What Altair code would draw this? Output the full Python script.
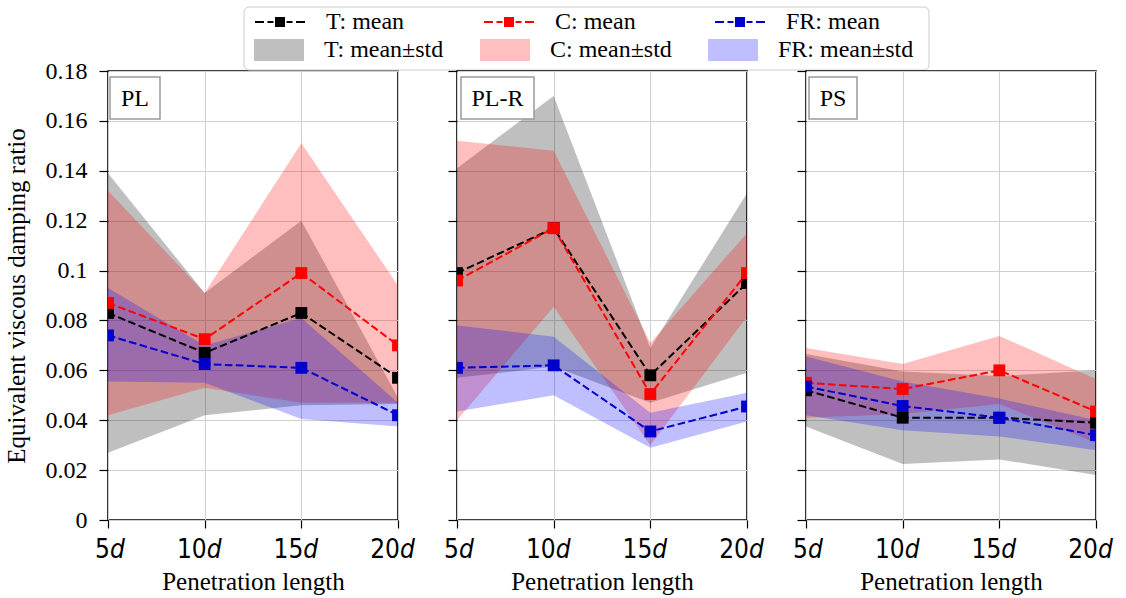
import altair as alt
import pandas as pd

# ---------------- data ----------------
X_POS = [5, 10, 15, 20]
X_NUM = ["5", "10", "15", "20"]
PANELS = ["PL", "PL-R", "PS"]
GROUPS = ["T", "C", "FR"]
Y_TICKS = [0, 0.02, 0.04, 0.06, 0.08, 0.1, 0.12, 0.14, 0.16, 0.18]

PL_T_MEAN = [0.083, 0.067, 0.083, 0.057]
PL_T_LO = [0.027, 0.042, 0.046, 0.0465]
PL_T_HI = [0.139, 0.091, 0.120, 0.049]
PL_C_MEAN = [0.087, 0.0725, 0.099, 0.070]
PL_C_LO = [0.042, 0.053, 0.047, 0.047]
PL_C_HI = [0.132, 0.091, 0.151, 0.094]
PL_FR_MEAN = [0.074, 0.0625, 0.061, 0.042]
PL_FR_LO = [0.0555, 0.055, 0.0405, 0.0375]
PL_FR_HI = [0.093, 0.070, 0.081, 0.047]

PLR_T_MEAN = [0.099, 0.117, 0.058, 0.095]
PLR_T_LO = [0.057, 0.0615, 0.047, 0.059]
PLR_T_HI = [0.141, 0.170, 0.069, 0.131]
PLR_C_MEAN = [0.096, 0.117, 0.0505, 0.099]
PLR_C_LO = [0.040, 0.0855, 0.030, 0.0815]
PLR_C_HI = [0.152, 0.148, 0.071, 0.115]
PLR_FR_MEAN = [0.061, 0.062, 0.0355, 0.0455]
PLR_FR_LO = [0.0435, 0.050, 0.029, 0.0395]
PLR_FR_HI = [0.078, 0.0735, 0.043, 0.051]

PS_T_MEAN = [0.052, 0.041, 0.041, 0.039]
PS_T_LO = [0.0375, 0.0225, 0.0243, 0.018]
PS_T_HI = [0.0665, 0.0595, 0.0577, 0.060]
PS_C_MEAN = [0.055, 0.0525, 0.060, 0.0435]
PS_C_LO = [0.041, 0.0425, 0.0465, 0.031]
PS_C_HI = [0.069, 0.0625, 0.0738, 0.0565]
PS_FR_MEAN = [0.0535, 0.0457, 0.041, 0.034]
PS_FR_LO = [0.042, 0.036, 0.0335, 0.028]
PS_FR_HI = [0.0655, 0.0555, 0.0487, 0.040]

MEAN_KEYS = ["T: mean", "C: mean", "FR: mean"]
BAND_KEYS = ["T: mean\u00b1std", "C: mean\u00b1std", "FR: mean\u00b1std"]

SERIES = {
    ("PL", "T"): (PL_T_MEAN, PL_T_LO, PL_T_HI),
    ("PL", "C"): (PL_C_MEAN, PL_C_LO, PL_C_HI),
    ("PL", "FR"): (PL_FR_MEAN, PL_FR_LO, PL_FR_HI),
    ("PL-R", "T"): (PLR_T_MEAN, PLR_T_LO, PLR_T_HI),
    ("PL-R", "C"): (PLR_C_MEAN, PLR_C_LO, PLR_C_HI),
    ("PL-R", "FR"): (PLR_FR_MEAN, PLR_FR_LO, PLR_FR_HI),
    ("PS", "T"): (PS_T_MEAN, PS_T_LO, PS_T_HI),
    ("PS", "C"): (PS_C_MEAN, PS_C_LO, PS_C_HI),
    ("PS", "FR"): (PS_FR_MEAN, PS_FR_LO, PS_FR_HI),
}

rows = []
for (p, g), (m, lo, hi) in SERIES.items():
    for i, xv in enumerate(X_POS):
        rows.append({"panel": p, "group": g, "x": xv, "mean": m[i], "lo": lo[i], "hi": hi[i]})
df = pd.DataFrame(rows)
tick_df = pd.DataFrame({"x": X_POS, "num": X_NUM, "d": ["d"] * 4})
leg_df = pd.DataFrame({"mkey": MEAN_KEYS, "bkey": BAND_KEYS, "x": [5, 5, 5], "y": [None, None, None]})

# ---------------- styles ----------------
SERIF = "Liberation Serif"
TICKFONT = "DejaVu Sans Condensed, DejaVu Sans"
LINE_COL = {"T": "#000000", "C": "#ff0000", "FR": "#0000cc"}
BAND_COL = {"T": "#000000", "C": "#ff0000", "FR": "#0000ff"}
LEG_MEAN_COL = ["#000000", "#ff0000", "#0000cc"]
LEG_BAND_COL = ["#bfbfbf", "#ffbfbf", "#bfbfff"]
BOX_W = {"PL": 50, "PL-R": 73, "PS": 48}
BOX_X = {"PL": 2, "PL-R": 4, "PS": 3}
W, H = 290, 449

# legend glyphs, unit = 25 px (symbolSize 2500)
MEAN_PATH = ("M-1,0H-0.64M-0.5,0H-0.26M0.26,0H0.5M0.64,0H1"
             "M-0.2,-0.16H0.2M-0.2,-0.08H0.2M-0.2,0H0.2M-0.2,0.08H0.2M-0.2,0.16H0.2")
BAND_PATH = "M-1,-0.44H1V0.44H-1Z"

xs = alt.Scale(domain=[5, 20], nice=False, zero=False)
ys = alt.Scale(domain=[0, 0.18], nice=False)


def make_panel(name, first):
    xaxis = alt.Axis(values=X_POS, labels=False, ticks=True, tickSize=8, tickColor="black",
                     tickWidth=1.2, domain=False, grid=True, gridColor="#d0d0d0", gridWidth=1,
                     title="Penetration length", titleFont=SERIF, titleFontSize=25,
                     titleFontWeight="normal", titleColor="black", titlePadding=41)
    yaxis = alt.Axis(values=Y_TICKS, labels=first, labelExpr="format(datum.value, '~g')",
                     labelFont=SERIF, labelFontSize=24, labelColor="black", labelPadding=12,
                     ticks=True, tickSize=9, tickColor="black", tickWidth=1.2, domain=False,
                     grid=True, gridColor="#d0d0d0", gridWidth=1,
                     title="Equivalent viscous damping ratio" if first else "",
                     titleFont=SERIF, titleFontSize=25, titleFontWeight="normal",
                     titleColor="black", titlePadding=16)
    X = alt.X("x:Q", scale=xs, axis=xaxis)
    src = alt.Chart(df).transform_filter(alt.datum.panel == name)
    layers = []
    for g in GROUPS:
        layers.append(
            src.transform_filter(alt.datum.group == g)
            .mark_area(color=BAND_COL[g], opacity=0.25, clip=True)
            .encode(x=X, y=alt.Y("lo:Q", scale=ys, axis=yaxis), y2="hi:Q")
        )
    for g in GROUPS:
        s = src.transform_filter(alt.datum.group == g)
        layers.append(
            s.mark_line(color=LINE_COL[g], strokeWidth=2, strokeDash=[7.6, 3.4], clip=True)
            .encode(x=X, y=alt.Y("mean:Q", scale=ys, axis=yaxis))
        )
        layers.append(
            s.mark_square(color=LINE_COL[g], size=140, opacity=1, clip=True)
            .encode(x=X, y=alt.Y("mean:Q", scale=ys, axis=yaxis))
        )
    # tick labels: number + italic d
    layers.append(
        alt.Chart(tick_df).mark_text(font=TICKFONT, fontSize=26, align="right", baseline="middle",
                                     dx=2, color="black")
        .encode(x=X, y=alt.value(H + 30), text="num:N")
    )
    layers.append(
        alt.Chart(tick_df).mark_text(font=TICKFONT, fontSize=26, fontStyle="italic", align="left",
                                     baseline="middle", dx=2, color="black")
        .encode(x=X, y=alt.value(H + 30), text="d:N")
    )
    # panel label box
    lab = alt.Chart(pd.DataFrame({"lab": [name]}))
    bx, bw = BOX_X[name], BOX_W[name]
    layers.append(
        lab.mark_rect(fill="white", stroke="#9a9a9a", strokeWidth=1.5)
        .encode(x=alt.value(bx), x2=alt.value(bx + bw), y=alt.value(6), y2=alt.value(48))
    )
    layers.append(
        lab.mark_text(font=SERIF, fontSize=24, align="center", baseline="middle", color="black")
        .encode(x=alt.value(bx + bw / 2), y=alt.value(28), text="lab:N")
    )
    if first:
        layers.append(
            lab.mark_rect(fill="white", stroke="#cccccc", strokeWidth=1, cornerRadius=5)
            .encode(x=alt.value(136), x2=alt.value(821), y=alt.value(-64), y2=alt.value(-1))
        )
        common = dict(title=None, orient="none", legendX=146, columns=3, symbolSize=2500,
                      symbolOffset=0, labelOffset=20, labelFont=SERIF, labelFontSize=24,
                      labelColor="black", rowPadding=0, padding=0, labelLimit=400, clipHeight=26)
        layers.append(
            alt.Chart(leg_df).mark_point(filled=False, opacity=1, strokeWidth=2)
            .encode(
                x=X, y=alt.Y("y:Q", scale=ys, axis=yaxis),
                color=alt.Color("mkey:N", scale=alt.Scale(domain=MEAN_KEYS, range=LEG_MEAN_COL),
                                legend=alt.Legend(legendY=-62, symbolType=MEAN_PATH,
                                                  symbolStrokeWidth=2, columnPadding=78, **common)),
            )
        )
        layers.append(
            alt.Chart(leg_df).mark_point(filled=True, opacity=1)
            .encode(
                x=X, y=alt.Y("y:Q", scale=ys, axis=yaxis),
                fill=alt.Fill("bkey:N", scale=alt.Scale(domain=BAND_KEYS, range=LEG_BAND_COL),
                              legend=alt.Legend(legendY=-34, symbolType=BAND_PATH,
                                                symbolStrokeWidth=0, columnPadding=36, **common)),
            )
        )
    return alt.layer(*layers).properties(width=W, height=H)


chart = (
    alt.hconcat(make_panel("PL", True), make_panel("PL-R", False), make_panel("PS", False),
                spacing=59, bounds="flush")
    .resolve_scale(color="independent", fill="independent")
    .properties(padding={"left": 3, "top": 5, "right": 4, "bottom": 4})
    .configure(font=SERIF)
    .configure_view(stroke="black", strokeWidth=1.6)
)

chart.save("out.html", embed_options={"renderer": "svg", "actions": False})
